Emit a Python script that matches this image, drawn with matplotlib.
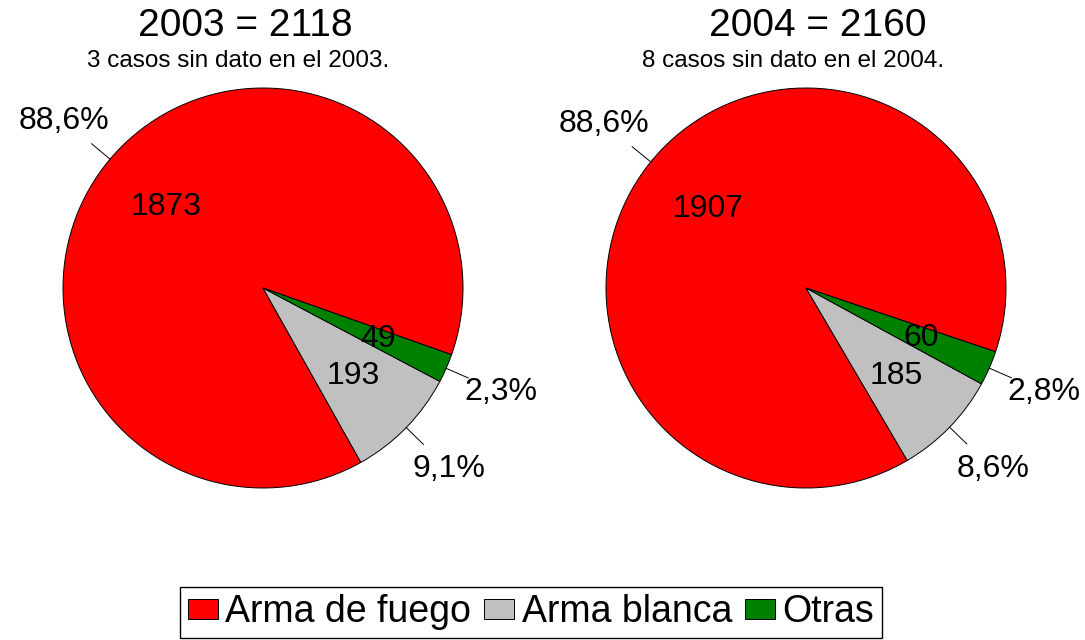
import matplotlib
matplotlib.use("Agg")
import matplotlib.pyplot as plt
import numpy as np

# data
categories = ["Arma de fuego", "Arma blanca", "Otras"]
values_2003 = [1873, 193, 49]
values_2004 = [1907, 185, 60]
titles = ["2003 = 2118", "2004 = 2160"]
subtitles = ["3 casos sin dato en el 2003.", "8 casos sin dato en el 2004."]

colors = ["#FF0000", "#C0C0C0", "#008000"]
FONT = ["Liberation Sans", "DejaVu Sans"]

W, H = 1085, 640
fig = plt.figure(figsize=(W / 100, H / 100), dpi=100)


def px_axes(cx, cy, r):
    # axes box from pixel centre / radius
    return fig.add_axes([(cx - r) / W, (H - cy - r) / H, 2 * r / W, 2 * r / H])


def draw_pie(ax, values, startangle):
    total = sum(values)
    wedges, _ = ax.pie(
        values,
        colors=colors,
        startangle=startangle,
        counterclock=True,
        wedgeprops={"edgecolor": "black", "linewidth": 0.7},
    )
    ax.set_xlim(-1, 1)
    ax.set_ylim(-1, 1)
    for w, v in zip(wedges, values):
        mid = np.deg2rad((w.theta1 + w.theta2) / 2)
        cx, cy = np.cos(mid), np.sin(mid)
        # value inside
        ax.text(0.63 * cx, 0.63 * cy, f"{v}", ha="center", va="center",
                fontsize=23, family=FONT, clip_on=False)
        # percent outside with leader line
        pct = f"{v / total * 100:.1f}".replace(".", ",") + "%"
        ax.plot([1.0 * cx, 1.12 * cx], [1.0 * cy, 1.12 * cy], color="black",
                lw=0.7, clip_on=False)
        ax.text(1.3 * cx, 1.3 * cy, pct, ha="center", va="center",
                fontsize=23, family=FONT, clip_on=False)
    return wedges


ax1 = px_axes(263, 288, 200)
wedges = draw_pie(ax1, values_2003, -19.5)
ax2 = px_axes(806, 288, 200)
draw_pie(ax2, values_2004, -18.6)

# titles
for x_t, x_s, t, s in zip([245, 818], [238, 793], titles, subtitles):
    fig.text(x_t / W, 1 - 36 / H, t, ha="center", va="baseline",
             fontsize=28, family=FONT)
    fig.text(x_s / W, 1 - 67 / H, s, ha="center", va="baseline",
             fontsize=17.5, family=FONT)

leg = fig.legend(
    wedges,
    categories,
    loc="center",
    bbox_to_anchor=(531 / W, 1 - 612 / H),
    ncol=3,
    frameon=True,
    fancybox=False,
    edgecolor="black",
    framealpha=1,
    borderpad=0.2,
    handlelength=0.8,
    handleheight=0.45,
    handletextpad=0.2,
    columnspacing=0.35,
    prop={"family": FONT, "size": 27},
)
leg.get_frame().set_linewidth(1.0)

fig.savefig("out.png", dpi=100)
